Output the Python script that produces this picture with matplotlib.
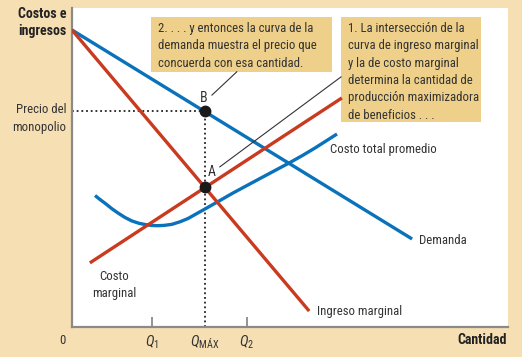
import matplotlib
matplotlib.use("Agg")
import matplotlib.pyplot as plt
from matplotlib.patches import Rectangle
from matplotlib import font_manager as fm

names = {f.name for f in fm.fontManager.ttflist}
FONT = 'DejaVu Sans'
for cand in ['Roboto Condensed', 'Fira Sans Condensed', 'Open Sans Condensed', 'PT Sans Narrow',
             'Asap Condensed', 'Barlow Semi Condensed', 'Liberation Sans Narrow']:
    if cand in names:
        FONT = cand
        break
plt.rcParams['font.family'] = [FONT, 'DejaVu Sans']
plt.rcParams['mathtext.fontset'] = 'custom'
plt.rcParams['mathtext.rm'] = FONT
plt.rcParams['mathtext.it'] = FONT + ':italic'

# ---- data (arbitrary units: quantity 0..100, cost 0..100) ----
demand_x = [0.0, 78.0]
demand_y = [93.1, 27.6]
mr_x = [0.0, 54.4]
mr_y = [93.1, 5.0]
mc_x = [4.1, 61.9]
mc_y = [20.1, 71.8]
atc_x = [5.28, 6.42, 7.80, 9.17, 10.55, 12.16, 13.76, 15.37, 16.74, 18.12, 19.50, 21.10, 22.94,
         24.77, 26.61, 28.44, 30.50, 33.72, 36.93, 39.91, 43.12, 46.56, 50.00, 52.98, 55.73, 58.26, 60.78]
atc_y = [41.22, 39.97, 38.56, 37.05, 35.74, 34.33, 33.23, 32.51, 32.13, 31.85, 31.76, 31.85, 32.19,
         32.98, 34.01, 35.42, 36.99, 39.50, 42.01, 44.20, 46.55, 49.06, 51.57, 53.86, 56.11, 58.31, 60.50]
q_max = 30.5
price = 67.7
cost_at_q = 43.9
q1 = 18.3
q2 = 40.1
tick_pos = [q1, q_max, q2]
tick_labels = [r'$Q_1$', r'$Q_{\mathrm{MÁX}}$', r'$Q_2$']

BLUE = '#0a72ba'
RED = '#c93a1f'
TAN = '#f7dfb4'
BOX = '#efd08a'
GRAY = '#8a8a8a'
TXT = '#333333'
FS = 9.2
LS = 1.43

fig = plt.figure(figsize=(5.22, 3.57), dpi=100, facecolor=TAN)
ax = fig.add_axes([72/522, 30/357, 436/522, 319/357])
ax.set_facecolor('white')
ax.set_xlim(0, 100)
ax.set_ylim(0, 100)
for s in ['top', 'right']:
    ax.spines[s].set_visible(False)
for s in ['left', 'bottom']:
    ax.spines[s].set_color(GRAY)
    ax.spines[s].set_linewidth(1.6)
ax.set_yticks([])
ax.set_xticks(tick_pos)
ax.set_xticklabels(tick_labels, fontsize=10.5, color=TXT)
ax.tick_params(axis='x', direction='in', length=7.5, width=1.3, color=GRAY, pad=4.5)
ax.xaxis.get_major_ticks()[1].tick1line.set_visible(False)

# boxes
ax.add_patch(Rectangle((18.1, 79.9), 41.5, 17.3, facecolor=BOX, edgecolor='none', zorder=1))
ax.add_patch(Rectangle((61.7, 64.3), 32.1, 32.9, facecolor=BOX, edgecolor='none', zorder=1))
ax.text(19.7, 95.6, "2. . . . y entonces la curva de la\ndemanda muestra el precio que\nconcuerda con esa cantidad.",
        fontsize=FS, color=TXT, va='top', ha='left', linespacing=LS, zorder=5)
ax.text(63.3, 95.6, "1. La intersección de la\ncurva de ingreso marginal\ny la de costo marginal\ndetermina la cantidad de\nproducción maximizadora\nde beneficios . . .",
        fontsize=FS, color=TXT, va='top', ha='left', linespacing=LS, zorder=5)

# curves
lw = 2.4
ax.plot(demand_x, demand_y, color=BLUE, lw=lw, zorder=3, solid_capstyle='butt')
ax.plot(atc_x, atc_y, color=BLUE, lw=lw, zorder=3, solid_capstyle='butt', solid_joinstyle='round')
ax.plot(mr_x, mr_y, color=RED, lw=lw, zorder=3, solid_capstyle='butt')
ax.plot(mc_x, mc_y, color=RED, lw=lw, zorder=3, solid_capstyle='butt')

# dotted guides
ax.plot([0, q_max], [price, price], color='#222222', lw=1.3, ls=(0, (1, 1.6)), zorder=2)
ax.plot([q_max, q_max], [0, price], color='#222222', lw=1.3, ls=(0, (1, 1.6)), zorder=2)

# points
ax.plot([q_max, q_max], [price, cost_at_q], 'o', color='#1a1a1a', ms=7.5, zorder=6)

# leader lines
ax.plot([32.1, 37.8], [72.7, 80.0], color='#333333', lw=0.8, zorder=4)
ax.plot([33.9, 61.7], [50.2, 78.4], color='#333333', lw=0.8, zorder=4)

ax.text(30.3, 71.8, 'B', fontsize=10, color=TXT, ha='center', va='center', zorder=5)
ax.text(32.1, 48.6, 'A', fontsize=10, color=TXT, ha='center', va='center', zorder=5)

# curve labels
ax.text(59.2, 55.5, 'Costo total promedio', fontsize=FS, color=TXT, ha='left', va='center')
ax.text(79.6, 27.0, 'Demanda', fontsize=FS, color=TXT, ha='left', va='center')
ax.text(56.2, 5.0, 'Ingreso marginal', fontsize=FS, color=TXT, ha='left', va='center')
ax.text(9.6, 13.2, 'Costo\nmarginal', fontsize=FS, color=TXT, ha='center', va='center', linespacing=LS)

# axis labels
ax.annotate('Costos e\ningresos', xy=(0, 1), xycoords='axes fraction', xytext=(-4.3, -10.4),
            textcoords='offset points', ha='right', va='center', fontsize=10, fontweight='bold',
            color='#222222', linespacing=1.3, annotation_clip=False)
ax.annotate('Precio del\nmonopolio', xy=(0, price), xycoords=('axes fraction', 'data'), xytext=(-4.3, -5.4),
            textcoords='offset points', ha='right', va='center', fontsize=FS, color=TXT,
            linespacing=LS, annotation_clip=False)
ax.annotate('0', xy=(0, 0), xycoords='axes fraction', xytext=(-7.2, -9.4),
            textcoords='offset points', ha='center', va='center', fontsize=FS, color=TXT,
            annotation_clip=False)
ax.annotate('Cantidad', xy=(1, 0), xycoords='axes fraction', xytext=(-0.5, -9.4),
            textcoords='offset points', ha='right', va='center', fontsize=10, fontweight='bold',
            color='#222222', annotation_clip=False)

fig.savefig('out.png', dpi=100, facecolor=TAN)
